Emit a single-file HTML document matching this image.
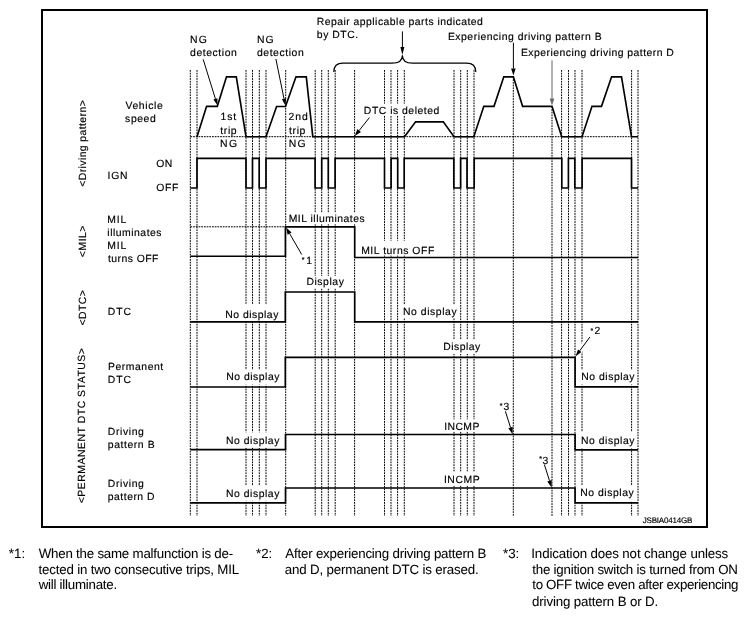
<!DOCTYPE html>
<html><head><meta charset="utf-8"><style>
html,body{margin:0;padding:0;background:#fff;width:746px;height:618px;overflow:hidden;}
svg{display:block;filter:grayscale(1);font-family:"Liberation Sans", sans-serif;}
</style></head><body>
<svg width="746" height="618" viewBox="0 0 746 618">
<rect x="0" y="0" width="746" height="618" fill="#fff"/>
<rect x="42" y="10" width="665" height="517" fill="none" stroke="#000" stroke-width="2"/>
<g stroke="#000" stroke-width="1" stroke-dasharray="1.8 0.9" fill="none">
<line x1="190.3" y1="70" x2="190.3" y2="516"/>
<line x1="197" y1="70" x2="197" y2="516"/>
<line x1="246" y1="70" x2="246" y2="516"/>
<line x1="252.5" y1="70" x2="252.5" y2="516"/>
<line x1="259.3" y1="70" x2="259.3" y2="516"/>
<line x1="266" y1="70" x2="266" y2="516"/>
<line x1="285.7" y1="70" x2="285.7" y2="516"/>
<line x1="315.2" y1="70" x2="315.2" y2="516"/>
<line x1="321.7" y1="70" x2="321.7" y2="516"/>
<line x1="328.3" y1="70" x2="328.3" y2="516"/>
<line x1="335.2" y1="70" x2="335.2" y2="516"/>
<line x1="354.6" y1="70" x2="354.6" y2="516"/>
<line x1="384.5" y1="70" x2="384.5" y2="516"/>
<line x1="391" y1="70" x2="391" y2="516"/>
<line x1="397.6" y1="70" x2="397.6" y2="516"/>
<line x1="404.3" y1="70" x2="404.3" y2="516"/>
<line x1="454" y1="70" x2="454" y2="516"/>
<line x1="460.7" y1="70" x2="460.7" y2="516"/>
<line x1="467.3" y1="70" x2="467.3" y2="516"/>
<line x1="474" y1="70" x2="474" y2="516"/>
<line x1="513.3" y1="76.5" x2="513.3" y2="516"/>
<line x1="552" y1="106.3" x2="552" y2="516"/>
<line x1="561.6" y1="70" x2="561.6" y2="516"/>
<line x1="568.5" y1="70" x2="568.5" y2="516"/>
<line x1="575" y1="70" x2="575" y2="516"/>
<line x1="582" y1="70" x2="582" y2="516"/>
<line x1="631.6" y1="70" x2="631.6" y2="516"/>
<line x1="638" y1="70" x2="638" y2="516"/>
<line x1="190.4" y1="136.7" x2="631.6" y2="136.7"/>
<line x1="190.4" y1="226.8" x2="285.5" y2="226.8"/>
</g>
<rect x="362" y="103.6" width="79.00" height="11.50" fill="#fff"/>
<rect x="287" y="212.8" width="80.00" height="11.50" fill="#fff"/>
<rect x="359" y="240.7" width="78.00" height="14.20" fill="#fff"/>
<rect x="300" y="254" width="13.00" height="12.00" fill="#fff"/>
<rect x="305" y="276" width="41.00" height="12.40" fill="#fff"/>
<rect x="223" y="303.8" width="58.00" height="17.20" fill="#fff"/>
<rect x="401" y="305" width="58.00" height="13.20" fill="#fff"/>
<rect x="441" y="339.4" width="42.00" height="14.50" fill="#fff"/>
<rect x="224" y="369.7" width="58.00" height="15.00" fill="#fff"/>
<rect x="579" y="370" width="58.00" height="14.50" fill="#fff"/>
<rect x="224" y="432.3" width="58.00" height="15.10" fill="#fff"/>
<rect x="442" y="419.3" width="40.00" height="12.30" fill="#fff"/>
<rect x="579" y="432" width="58.00" height="16.50" fill="#fff"/>
<rect x="224" y="485.7" width="58.00" height="15.10" fill="#fff"/>
<rect x="442" y="471.9" width="40.00" height="13.70" fill="#fff"/>
<rect x="579" y="485.5" width="58.00" height="15.50" fill="#fff"/>
<path d="M197,136.7 L206.6,106.3 L217.3,106.3 L226.5,76.8 L236.3,76.8 L246,136.7 L266,136.7 L276.6,106.5 L285.5,106.5 L296,76.8 L306.3,76.8 L312.8,136.7 L404.5,136.7 L415.6,121.8 L443.3,121.8 L454,136.7 L473.8,136.7 L483.8,106.3 L494,106.3 L503.8,76.8 L513.4,76.8 L522.6,106.3 L552,106.3 L561.7,136.7 L582,136.7 L592,106.3 L601.5,106.3 L611.6,76.8 L621.5,76.8 L631.5,136.7 L638,136.7" fill="none" stroke="#000" stroke-width="1.65" stroke-linejoin="miter"/>
<path d="M190.4,188 L197,188 L197,158.3 L246,158.3 L246,188 L252.5,188 L252.5,158.3 L259.2,158.3 L259.2,188 L266,188 L266,158.3 L315.1,158.3 L315.1,188 L321.7,188 L321.7,158.3 L328.3,158.3 L328.3,188 L335.1,188 L335.1,158.3 L384.5,158.3 L384.5,188 L391.1,188 L391.1,158.3 L397.7,158.3 L397.7,188 L404.2,188 L404.2,158.3 L453.8,158.3 L453.8,188 L460.6,188 L460.6,158.3 L467,158.3 L467,188 L474.2,188 L474.2,158.3 L561.8,158.3 L561.8,188 L568.4,188 L568.4,158.3 L574.8,158.3 L574.8,188 L582.1,188 L582.1,158.3 L631.5,158.3 L631.5,188 L638,188" fill="none" stroke="#000" stroke-width="1.65" stroke-linejoin="miter"/>
<path d="M190.4,256.2 L285.4,256.2 L285.4,226.8 L354.7,226.8 L354.7,257.5 L638,257.5" fill="none" stroke="#000" stroke-width="1.65" stroke-linejoin="miter"/>
<path d="M190.4,321.8 L285.3,321.8 L285.3,292 L354.7,292 L354.7,321.8 L638,321.8" fill="none" stroke="#000" stroke-width="1.65" stroke-linejoin="miter"/>
<path d="M190.4,387 L285.3,387 L285.3,357.3 L575.1,357.3 L575.1,386.8 L638,386.8" fill="none" stroke="#000" stroke-width="1.65" stroke-linejoin="miter"/>
<path d="M190.4,449.6 L285.5,449.6 L285.5,434.5 L575.1,434.5 L575.1,449.8 L638,449.8" fill="none" stroke="#000" stroke-width="1.65" stroke-linejoin="miter"/>
<path d="M190.4,502.8 L285.5,502.8 L285.5,488 L575.1,488 L575.1,502.8 L638,502.8" fill="none" stroke="#000" stroke-width="1.65" stroke-linejoin="miter"/>
<line x1="203.2" y1="59.4" x2="215.43" y2="98.91" stroke="#000" stroke-width="1"/>
<path d="M217.5,105.6 L213.42,99.53 L217.44,98.29 Z" fill="#000"/>
<line x1="275.9" y1="59" x2="284.00" y2="98.74" stroke="#000" stroke-width="1"/>
<path d="M285.4,105.6 L281.94,99.16 L286.06,98.32 Z" fill="#000"/>
<line x1="402.4" y1="31.4" x2="402.40" y2="47.00" stroke="#000" stroke-width="1"/>
<path d="M402.4,55 L400.40,47.00 L404.40,47.00 Z" fill="#000"/>
<line x1="513.4" y1="42.7" x2="513.40" y2="68.50" stroke="#000" stroke-width="1"/>
<path d="M513.4,75.5 L511.10,68.50 L515.70,68.50 Z" fill="#000"/>
<line x1="552" y1="60.3" x2="552.00" y2="98.60" stroke="#666" stroke-width="1"/>
<path d="M552,105.6 L549.70,98.60 L554.30,98.60 Z" fill="#666"/>
<line x1="369.4" y1="117.6" x2="359.15" y2="130.52" stroke="#000" stroke-width="1"/>
<path d="M354.8,136 L357.35,129.09 L360.95,131.95 Z" fill="#000"/>
<line x1="301.7" y1="254.5" x2="289.60" y2="233.56" stroke="#000" stroke-width="1"/>
<path d="M286.1,227.5 L291.59,232.41 L287.61,234.71 Z" fill="#000"/>
<line x1="590" y1="336" x2="578.5" y2="352.5" stroke="#fff" stroke-width="5.5"/>
<line x1="589.9" y1="337" x2="579.66" y2="350.87" stroke="#000" stroke-width="1"/>
<path d="M575.5,356.5 L577.97,349.62 L581.35,352.12 Z" fill="#000"/>
<line x1="505.4" y1="411.3" x2="510.50" y2="427.52" stroke="#000" stroke-width="1"/>
<path d="M512.6,434.2 L508.31,428.21 L512.69,426.83 Z" fill="#000"/>
<line x1="544.4" y1="464.6" x2="549.49" y2="480.72" stroke="#000" stroke-width="1"/>
<path d="M551.6,487.4 L547.30,481.42 L551.69,480.03 Z" fill="#000"/>
<path d="M333.8,72 Q333.8,63.2 343,63.2 L392,63.2 Q402.4,63.2 402.4,55.2 Q402.4,63.2 412.6,63.2 L466.5,63.2 Q475.8,63.2 475.8,72" fill="none" stroke="#000" stroke-width="1.2"/>
<g font-family="Liberation Sans, sans-serif" text-rendering="geometricPrecision" fill="#000" stroke="#000" stroke-width="0.16"><text id="ng1" x="190.11" y="42.80" font-size="10.4" textLength="16.70" lengthAdjust="spacing">NG</text>
<text id="det1" x="190.05" y="55.90" font-size="10.4" textLength="46.72" lengthAdjust="spacing">detection</text>
<text id="ng2" x="256.88" y="42.80" font-size="10.4" textLength="16.78" lengthAdjust="spacing">NG</text>
<text id="det2" x="256.95" y="56.20" font-size="10.4" textLength="46.77" lengthAdjust="spacing">detection</text>
<text id="rep1" x="316.66" y="24.90" font-size="10.4" textLength="166.24" lengthAdjust="spacing">Repair applicable parts indicated</text>
<text id="rep2" x="316.85" y="38.30" font-size="10.4" textLength="41.35" lengthAdjust="spacing">by DTC.</text>
<text id="expB" x="447.90" y="39.80" font-size="10.4" textLength="153.76" lengthAdjust="spacing">Experiencing driving pattern B</text>
<text id="expD" x="520.97" y="55.80" font-size="10.4" textLength="152.86" lengthAdjust="spacing">Experiencing driving pattern D</text>
<text id="veh" x="125.50" y="108.70" font-size="10.4" textLength="37.18" lengthAdjust="spacing">Vehicle</text>
<text id="spd" x="125.12" y="122.10" font-size="10.4" textLength="30.61" lengthAdjust="spacing">speed</text>
<text id="t1a" x="220.59" y="119.80" font-size="10.4" textLength="15.46" lengthAdjust="spacing">1st</text>
<text id="t1b" x="220.33" y="133.80" font-size="10.4" textLength="16.32" lengthAdjust="spacing">trip</text>
<text id="t1c" x="219.88" y="146.90" font-size="10.4" textLength="17.21" lengthAdjust="spacing">NG</text>
<text id="t2a" x="288.61" y="119.80" font-size="10.4" textLength="19.21" lengthAdjust="spacing">2nd</text>
<text id="t2b" x="289.12" y="133.80" font-size="10.4" textLength="16.22" lengthAdjust="spacing">trip</text>
<text id="t2c" x="288.70" y="146.90" font-size="10.4" textLength="16.97" lengthAdjust="spacing">NG</text>
<text id="del" x="363.86" y="113.80" font-size="10.4" textLength="75.35" lengthAdjust="spacing">DTC is deleted</text>
<text id="on" x="156.16" y="166.80" font-size="10.4" textLength="16.17" lengthAdjust="spacing">ON</text>
<text id="ign" x="107.57" y="179.30" font-size="10.4" textLength="20.05" lengthAdjust="spacing">IGN</text>
<text id="off" x="156.16" y="190.50" font-size="10.4" textLength="22.12" lengthAdjust="spacing">OFF</text>
<text id="mil1" x="107.13" y="222.70" font-size="10.4" textLength="19.05" lengthAdjust="spacing">MIL</text>
<text id="ill" x="107.35" y="235.90" font-size="10.4" textLength="54.19" lengthAdjust="spacing">illuminates</text>
<text id="mil2" x="107.13" y="249.00" font-size="10.4" textLength="19.05" lengthAdjust="spacing">MIL</text>
<text id="toff" x="108.00" y="262.20" font-size="10.4" textLength="50.44" lengthAdjust="spacing">turns OFF</text>
<text id="milill" x="288.66" y="222.00" font-size="10.4" textLength="76.11" lengthAdjust="spacing">MIL illuminates</text>
<text id="miloff" x="361.13" y="253.50" font-size="10.4" textLength="73.13" lengthAdjust="spacing">MIL turns OFF</text>
<text id="s1" x="306.18" y="263.60" font-size="10.4" letter-spacing="0.4">1</text>
<text id="dtc" x="107.86" y="315.40" font-size="10.4" textLength="23.12" lengthAdjust="spacing">DTC</text>
<text id="disp1" x="306.39" y="285.00" font-size="10.4" textLength="37.45" lengthAdjust="spacing">Display</text>
<text id="nd1" x="225.25" y="317.60" font-size="10.4" textLength="53.11" lengthAdjust="spacing">No display</text>
<text id="nd2" x="402.99" y="314.70" font-size="10.4" textLength="53.59" lengthAdjust="spacing">No display</text>
<text id="perm" x="107.90" y="369.50" font-size="10.4" textLength="55.36" lengthAdjust="spacing">Permanent</text>
<text id="dtc2" x="107.86" y="382.60" font-size="10.4" textLength="23.12" lengthAdjust="spacing">DTC</text>
<text id="disp2" x="443.15" y="349.70" font-size="10.4" textLength="37.09" lengthAdjust="spacing">Display</text>
<text id="nd3" x="226.21" y="380.30" font-size="10.4" textLength="53.18" lengthAdjust="spacing">No display</text>
<text id="s2" x="594.38" y="334.40" font-size="10.4" letter-spacing="0.4">2</text>
<text id="nd4" x="581.25" y="380.00" font-size="10.4" textLength="53.29" lengthAdjust="spacing">No display</text>
<text id="drvB" x="107.86" y="434.70" font-size="10.4" textLength="35.98" lengthAdjust="spacing">Driving</text>
<text id="patB" x="107.82" y="447.50" font-size="10.4" textLength="46.76" lengthAdjust="spacing">pattern B</text>
<text id="nd5" x="225.88" y="443.60" font-size="10.4" textLength="53.48" lengthAdjust="spacing">No display</text>
<text id="incB" x="444.24" y="429.70" font-size="10.4" textLength="35.09" lengthAdjust="spacing">INCMP</text>
<text id="s3B" x="503.59" y="409.80" font-size="10.4" letter-spacing="0.4">3</text>
<text id="nd6" x="580.88" y="444.30" font-size="10.4" textLength="53.66" lengthAdjust="spacing">No display</text>
<text id="drvD" x="107.86" y="486.80" font-size="10.4" textLength="35.98" lengthAdjust="spacing">Driving</text>
<text id="patD" x="107.82" y="499.70" font-size="10.4" textLength="46.71" lengthAdjust="spacing">pattern D</text>
<text id="nd7" x="225.88" y="497.00" font-size="10.4" textLength="53.48" lengthAdjust="spacing">No display</text>
<text id="incD" x="443.92" y="482.50" font-size="10.4" textLength="35.68" lengthAdjust="spacing">INCMP</text>
<text id="s3D" x="542.57" y="463.50" font-size="10.4" letter-spacing="0.4">3</text>
<text id="nd8" x="580.21" y="496.40" font-size="10.4" textLength="53.47" lengthAdjust="spacing">No display</text>
<text id="code" x="642.68" y="522.60" font-size="8" textLength="49.75" lengthAdjust="spacing">JSBIA0414GB</text>
<text id="f1a" x="8.83" y="557.50" font-size="13.3" stroke-width="0.05">*1:</text>
<text id="f1b" x="38.68" y="557.50" font-size="13.3" textLength="194.49" lengthAdjust="spacing" stroke-width="0.05">When the same malfunction is de-</text>
<text id="f1c" x="38.49" y="573.60" font-size="13.3" textLength="200.67" lengthAdjust="spacing" stroke-width="0.05">tected in two consecutive trips, MIL</text>
<text id="f1d" x="38.64" y="588.90" font-size="13.3" textLength="78.46" lengthAdjust="spacing" stroke-width="0.05">will illuminate.</text>
<text id="f2a" x="256.05" y="557.50" font-size="13.3" stroke-width="0.05">*2:</text>
<text id="f2b" x="285.25" y="557.50" font-size="13.3" textLength="201.09" lengthAdjust="spacing" stroke-width="0.05">After experiencing driving pattern B</text>
<text id="f2c" x="284.80" y="573.60" font-size="13.3" textLength="193.81" lengthAdjust="spacing" stroke-width="0.05">and D, permanent DTC is erased.</text>
<text id="f3a" x="503.05" y="557.50" font-size="13.3" stroke-width="0.05">*3:</text>
<text id="f3b" x="531.30" y="558.00" font-size="13.3" textLength="196.89" lengthAdjust="spacing" stroke-width="0.05">Indication does not change unless</text>
<text id="f3c" x="532.26" y="573.60" font-size="13.3" textLength="205.61" lengthAdjust="spacing" stroke-width="0.05">the ignition switch is turned from ON</text>
<text id="f3d" x="532.26" y="588.50" font-size="13.3" textLength="206.22" lengthAdjust="spacing" stroke-width="0.05">to OFF twice even after experiencing</text>
<text id="f3e" x="532.07" y="605.60" font-size="13.3" textLength="126.08" lengthAdjust="spacing" stroke-width="0.05">driving pattern B or D.</text>
<text id="r1" transform="translate(85.60,143.51) rotate(-90)" x="0" y="0" font-size="10.4" text-anchor="middle" textLength="86.46" lengthAdjust="spacing">&lt;Driving pattern&gt;</text>
<text id="r2" transform="translate(85.70,241.37) rotate(-90)" x="0" y="0" font-size="10.4" text-anchor="middle" textLength="31.61" lengthAdjust="spacing">&lt;MIL&gt;</text>
<text id="r3" transform="translate(85.70,307.80) rotate(-90)" x="0" y="0" font-size="10.4" text-anchor="middle" textLength="35.42" lengthAdjust="spacing">&lt;DTC&gt;</text>
<text id="r4" transform="translate(85.10,425.70) rotate(-90)" x="0" y="0" font-size="10.4" text-anchor="middle" textLength="155.21" lengthAdjust="spacing">&lt;PERMANENT DTC STATUS&gt;</text>
<text x="303.20" y="261.79" font-size="7" text-anchor="middle" stroke-width="0.2">*</text>
<text x="591.80" y="332.69" font-size="7" text-anchor="middle" stroke-width="0.2">*</text>
<text x="501.20" y="408.49" font-size="7" text-anchor="middle" stroke-width="0.2">*</text>
<text x="540.50" y="461.49" font-size="7" text-anchor="middle" stroke-width="0.2">*</text></g>
</svg>
</body></html>
